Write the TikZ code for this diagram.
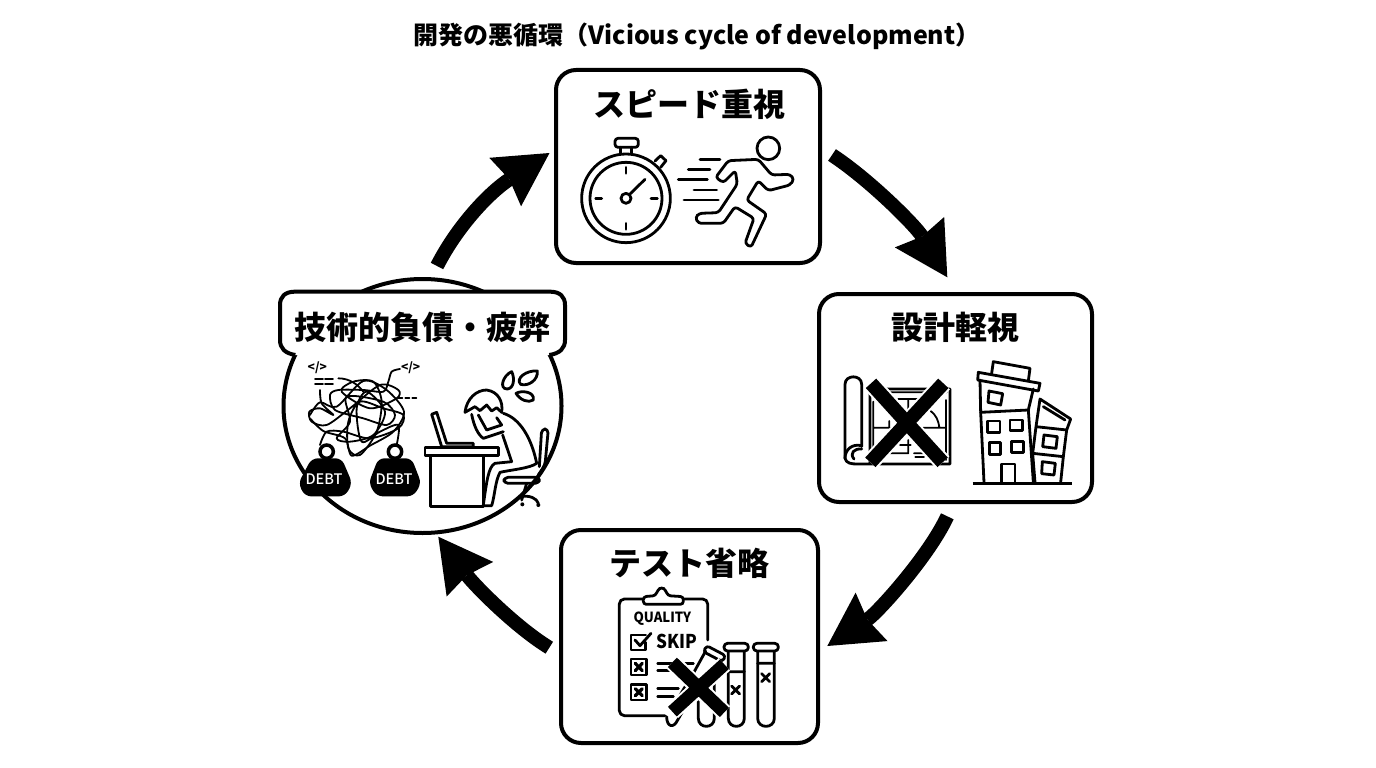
\documentclass[tikz,border=0pt]{standalone}
\usepackage{fontspec}
\newfontfamily\jp{Noto Sans CJK JP}
\newfontfamily\jpm{Noto Sans CJK JP Medium}
\usetikzlibrary{arrows.meta,shapes.geometric}
\tikzset{
 panel/.style={draw=black,line width=4pt,rounded corners=20pt,fill=white,inner sep=0pt},
 heading/.style={font=\jp\bfseries\fontsize{32}{36}\selectfont,inner sep=0pt},
 cyc/.style={line width=14pt,-{Stealth[length=53pt,width=58pt,inset=5pt,line width=0pt]}},
 icon/.style={line width=2.8pt,line join=round,line cap=round},
 thin icon/.style={line width=1.8pt,line join=round,line cap=round},
 cross/.style={line width=14pt},
 halo/.style={line width=18pt,white},
 zA/.style={shift={(550,60)},x=.33333pt,y=-.33333pt},
 zB/.style={shift={(810,285)},x=.33333pt,y=-.33333pt},
 zC/.style={shift={(555,525)},x=.33333pt,y=-.33333pt},
 zD/.style={shift={(270,275)},x=.33333pt,y=-.33333pt},
}
\begin{document}
\begin{tikzpicture}[x=1pt,y=-1pt]
\useasboundingbox (0,0) rectangle (1376,768);
\fill[white] (0,0) rectangle (1376,768);
\node[font=\jp\bfseries\fontsize{25}{28}\selectfont,inner sep=0pt] (title) at (697,36) {開発の悪循環（Vicious cycle of development）};

% panels
\node[panel,minimum width=264pt,minimum height=193pt] (speed) at (688,166.5) {};
\node[panel,minimum width=273pt,minimum height=208pt] (design) at (955.5,398) {};
\node[panel,minimum width=257pt,minimum height=213pt] (test) at (689.5,636.5) {};
\node[draw=black,fill=white,line width=4pt,ellipse,inner sep=0pt,minimum width=278pt,minimum height=254pt] (debt) at (422.5,406) {};
\node[heading] (speedlabel) at (689,104) {スピード重視};
\node[heading] (designlabel) at (955,327) {設計軽視};
\node[heading] (testlabel) at (689,563) {テスト省略};

% cycle arrows
\coordinate (tailA) at (437,266); \coordinate (tipA) at (549.5,153);
\coordinate (tailB) at (832,155); \coordinate (tipB) at (947.3,277.3);
\coordinate (tailC) at (947.3,516.3); \coordinate (tipC) at (827.3,646);
\coordinate (tailD) at (549.3,647.7); \coordinate (tipD) at (438.3,536.7);
\draw[cyc] (tailA) .. controls (458,225) and (490,192) .. (tipA);
\draw[cyc] (tailB) .. controls (870,180) and (915.7,226) .. (tipB);
\draw[cyc] (tailC) .. controls (929,556) and (877.4,613) .. (tipC);
\draw[cyc] (tailD) .. controls (515,626.7) and (474,584.7) .. (tipD);

% ---------- speed icons
\begin{scope}[zA]
 \draw[icon] (228,415) circle[radius=133];
 \draw[icon] (228,415) circle[radius=108];
 \draw[icon] (228,415) circle[radius=15];
 \draw[icon] (240,402) -- (285,358);
 \draw[icon] (228,322) -- (228,340) (228,490) -- (228,508) (137,415) -- (155,415) (303,415) -- (322,415);
 \draw[icon,rounded corners=3pt] (195,235) rectangle (265,262);
 \draw[icon] (212,262) -- (212,282) (245,262) -- (245,282);
 \draw[icon] (315,303) -- (332,287) -- (348,302) -- (332,322);
 \draw[icon] (655,265) circle[radius=34];
 \draw[icon,rounded corners=3pt] (497,352) -- (535,302) -- (625,298) -- (665,345) -- (720,343) -- (732,358) -- (720,375) -- (655,392) -- (625,362) -- (590,420) -- (650,462) -- (603,562) -- (585,550) -- (612,475) -- (555,440) -- (520,490) -- (445,490) -- (436,472) -- (448,460) -- (505,458) -- (562,372) -- (556,332) -- (520,368) -- cycle;
 \draw[icon] (450,298) -- (510,298) (415,328) -- (480,328) (385,358) -- (472,358) (432,390) -- (500,390) (402,420) -- (505,420);
\end{scope}

% ---------- design icons
\begin{scope}[zB]
 % blueprint
 \draw[icon] (105,520) -- (105,298) .. controls (105,268) and (155,268) .. (155,298) -- (155,485);
 \draw[icon] (155,482) .. controls (125,475) and (105,495) .. (105,520) .. controls (108,535) and (125,537) .. (140,537) -- (420,537) -- (420,312) -- (180,312) -- (180,537);
 \draw[icon] (132,522) .. controls (118,505) and (132,490) .. (155,492);
 \draw[thin icon] (190,350) -- (190,528) (225,322) -- (410,322) (265,342) -- (325,342) (295,342) -- (295,372) (190,428) -- (240,428) (238,408) -- (238,428) (340,428) -- (408,428) (362,378) .. controls (378,390) and (385,405) .. (388,428) (408,345) -- (408,525) (270,480) -- (302,480) (295,465) -- (295,502) (240,505) -- (295,505) (312,505) -- (342,505) (316,516) -- (342,516);
 \draw[halo] (183,295) -- (398,532) (400,295) -- (181,532);
 \draw[cross] (183,295) -- (398,532) (400,295) -- (181,532);
 % buildings
 \draw[line width=3pt] (488,595) -- (785,595);
 \draw[icon] (505,262) -- (690,295) -- (685,318) -- (503,285) -- cycle;
 \draw[icon] (545,265) -- (550,230) -- (660,250) -- (655,288);
 \draw[icon] (510,285) -- (512,382) -- (655,375) -- (670,312);
 \draw[icon] (512,382) -- (522,592) (655,375) -- (670,592);
 \draw[icon] (537,318) -- (578,326) -- (572,360) -- (534,352) -- cycle;
 \draw[icon] (533,408) -- (570,408) -- (570,443) -- (533,443) -- cycle;
 \draw[icon] (600,405) -- (637,405) -- (637,437) -- (600,437) -- cycle;
 \draw[icon] (538,473) -- (572,473) -- (572,508) -- (538,508) -- cycle;
 \draw[icon] (605,470) -- (640,470) -- (640,502) -- (605,502) -- cycle;
 \draw[icon] (575,592) -- (575,537) -- (615,537) -- (615,592);
 \draw[icon] (770,435) -- (782,402) -- (690,342) -- (678,425) -- (770,435) -- (760,515) -- (668,505) -- (678,425);
 \draw[icon] (700,365) -- (765,405);
 \draw[icon] (668,505) -- (675,592) (760,515) -- (752,592);
 \draw[icon] (702,450) -- (742,455) -- (738,490) -- (698,485) -- cycle;
 \draw[icon] (697,530) -- (736,535) -- (732,570) -- (695,566) -- cycle;
\end{scope}

% ---------- test icons
\begin{scope}[zC]
 \draw[icon,rounded corners=5pt] (330,572) -- (193,572) -- (193,222) -- (458,222) -- (458,345);
 \draw[icon,fill=white,rounded corners=3pt] (265,238) -- (265,215) -- (302,212) -- (308,195) -- (320,186) -- (332,195) -- (338,212) -- (385,215) -- (385,238) -- cycle;
 \node[font=\jp\bfseries\fontsize{14}{16}\selectfont,inner sep=0pt,xscale=.94] (quality) at (322,282) {QUALITY};
 \node[font=\jp\bfseries\fontsize{19}{22}\selectfont,inner sep=0pt,xscale=.9] (skip) at (366,350) {SKIP};
 \draw[icon] (272,330) -- (228,330) -- (228,375) -- (272,375) -- (272,352);
 \draw[icon] (240,345) -- (255,362) -- (288,325);
 \draw[icon] (228,402) rectangle (275,450) (228,478) rectangle (275,525);
 \draw[icon,line width=3.2pt] (241,415) -- (262,437) (262,415) -- (241,437) (241,491) -- (262,512) (262,491) -- (241,512);
 \draw[icon] (308,415) -- (365,415) (370,415) -- (415,415) (308,437) -- (345,437) (308,490) -- (370,490) (308,515) -- (355,515);
 % tubes
 \draw[icon,fill=white] (608,378) -- (608,580) .. controls (608,612) and (658,612) .. (658,580) -- (658,378);
 \draw[icon,fill=white,rounded corners=3.5pt] (595,355) rectangle (670,378);
 \draw[icon] (608,415) -- (658,415) (620,446) -- (644,470) (644,446) -- (620,470);
 \draw[icon,fill=white] (520,378) -- (520,580) .. controls (520,612) and (568,612) .. (568,580) -- (568,378);
 \draw[icon,fill=white,rounded corners=3.5pt] (507,355) rectangle (580,378);
 \draw[icon] (520,440) -- (568,440) (530,483) -- (554,507) (554,483) -- (530,507);
 \draw[icon] (430,530) -- (430,580) .. controls (430,612) and (478,612) .. (478,580) -- (478,475);
 \draw[icon] (452,378) -- (415,445) -- (375,510) (498,405) -- (440,500) (335,575) .. controls (335,605) and (355,612) .. (368,585) -- (400,530);
 \draw[icon,rounded corners=3pt] (455,362) -- (512,392) -- (502,410) -- (445,380) -- cycle;
 \draw[halo,line width=17pt] (352,412) -- (508,562) (508,418) -- (352,560);
 \draw[cross,line width=13pt] (352,412) -- (508,562) (508,418) -- (352,560);
\end{scope}

% ---------- debt
\begin{scope}[zD]
 \fill[white,rounded corners=12pt] (30,50) rectangle (885,240);
 \draw[line width=4pt] (76,240) .. controls (45,235) and (30,220) .. (30,195) -- (30,90) .. controls (30,65) and (45,50) .. (75,50) -- (840,50) .. controls (870,50) and (885,65) .. (885,90) -- (885,195) .. controls (885,220) and (870,235) .. (838,240);
 \node[heading] (debtlabel) at (456,156) {技術的負債・疲弊};
 \node[font=\jp\bfseries\fontsize{12}{13}\selectfont,inner sep=0pt] (codeA) at (142,278) {</>};
 \node[font=\jp\bfseries\fontsize{12}{13}\selectfont,inner sep=0pt] (codeB) at (422,278) {</>};
 % tangle
 \draw[thin icon] plot[smooth] coordinates {(150,345) (155,385) (190,420) (150,400) (118,410) (125,440) (170,450) (240,400) (330,330) (385,345) (380,370) (300,400) (215,350) (250,320) (310,320) (335,380) (320,470) (270,540) (235,520) (235,440) (270,380) (340,400) (400,420) (385,460) (300,490) (220,470) (170,470) (150,510)};
 \draw[thin icon] plot[smooth] coordinates {(390,282) (365,290) (355,320) (340,350) (280,345) (205,345) (180,360) (195,405) (280,430) (350,450) (375,420) (340,380) (230,365) (240,440) (200,490) (240,500) (310,480) (345,410) (290,350) (260,400) (275,500) (330,470) (385,450) (380,510)};
 \draw[thin icon] plot[smooth] coordinates {(120,420) (150,382) (200,395) (280,318) (350,345) (402,410) (370,470) (300,512) (245,542) (225,490) (160,468) (122,432)};
 \draw[thin icon] (205,310) .. controls (240,310) and (265,330) .. (280,350);
 \draw[thin icon,dash pattern=on 8pt off 2pt] (135,312) -- (195,312) (135,328) -- (195,328);
 \draw[thin icon,dash pattern=on 4pt off 3pt] (385,368) -- (445,368);
 % weights
 \draw[line width=3.5pt] (170,530) circle[radius=20] (375,530) circle[radius=20];
 \fill[rounded corners=6pt] (125,550) -- (215,550) -- (247,625) -- (225,664) -- (105,664) -- (85,625) -- cycle;
 \fill[rounded corners=6pt] (325,550) -- (425,550) -- (454,625) -- (430,664) -- (320,664) -- (296,625) -- cycle;
 \node[font=\jpm\fontsize{14.5}{15}\selectfont,inner sep=0pt,text=white] (debtA) at (162,613) {DEBT};
 \node[font=\jpm\fontsize{14.5}{15}\selectfont,inner sep=0pt,text=white] (debtB) at (372,613) {DEBT};
 % desk
 \draw[icon,fill=white] (482,542) -- (482,695) -- (640,695) -- (640,542);
 \draw[icon,fill=white] (465,518) rectangle (685,542);
 \draw[icon] (530,505) -- (500,412) -- (485,418) -- (515,515) -- (610,515) -- (610,505) -- (530,505);
 % person
 \draw[icon] (585,412) .. controls (590,370) and (620,345) .. (650,345) .. controls (685,350) and (700,380) .. (695,412);
 \draw[icon] (585,412) -- (615,395) -- (630,407) -- (650,390) -- (665,408) -- (680,398) -- (695,412);
 \draw[icon] (605,418) .. controls (612,455) and (625,480) .. (640,490) -- (700,470) (625,420) -- (650,465) -- (695,450) -- (680,428);
 \draw[icon] (700,415) .. controls (750,430) and (785,490) .. (800,565);
 \draw[icon] (698,480) -- (725,560);
 \draw[icon] (725,560) -- (675,565) .. controls (655,575) and (650,620) .. (640,690);
 \draw[icon] (800,565) .. controls (780,580) and (720,585) .. (690,592) .. controls (675,620) and (675,660) .. (665,692) -- (640,692);
 % chair
 \draw[icon,rounded corners=4pt] (702,607) rectangle (808,625);
 \draw[icon,rounded corners=4pt] (808,575) -- (815,462) -- (835,462) -- (825,570) -- (805,600);
 \draw[icon] (770,625) -- (755,675) (752,665) .. controls (780,660) and (800,670) .. (805,685);
 \fill (805,690) circle[radius=6] (757,688) circle[radius=6];
 % sweat
 \draw[icon] (725,290) .. controls (700,300) and (685,342) .. (712,342) .. controls (732,340) and (735,310) .. (725,290) -- cycle;
 \draw[icon] (802,288) .. controls (770,285) and (735,310) .. (752,328) .. controls (775,335) and (805,315) .. (802,288) -- cycle;
 \draw[icon] (738,355) .. controls (755,345) and (795,350) .. (790,375) .. controls (775,385) and (750,375) .. (738,355) -- cycle;
\end{scope}
\end{tikzpicture}
\end{document}
